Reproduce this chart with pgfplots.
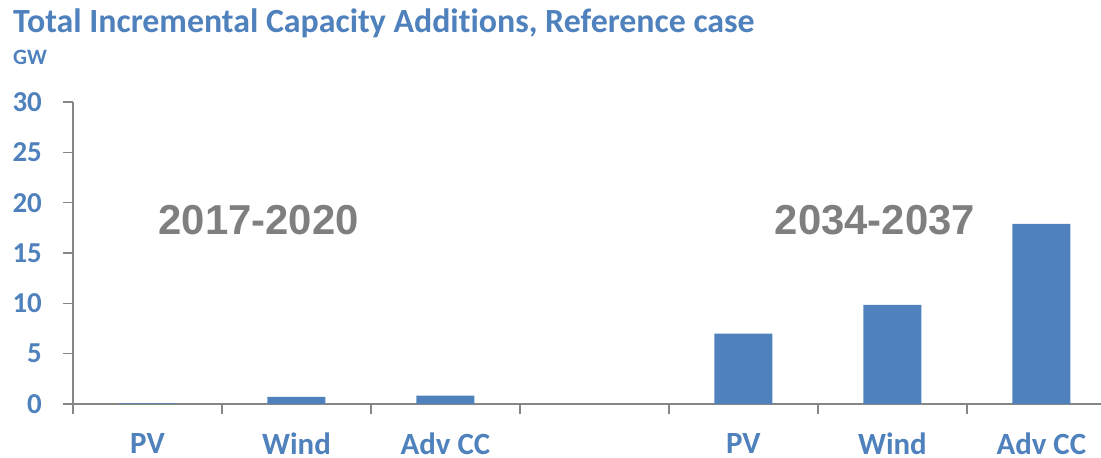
\documentclass[border=0pt]{standalone}
\usepackage{pgfplots}
\pgfplotsset{compat=1.18}
\usepackage{fontspec}
\setmainfont{Carlito Bold}[RawFeature=-liga]
\newfontfamily\arialf{Liberation Sans Bold}
\definecolor{barblue}{HTML}{4F81BD}
\definecolor{txtblue}{HTML}{4F81BD}
\definecolor{axgray}{HTML}{868686}
\definecolor{anngray}{HTML}{7F7F7F}
\begin{document}
\begin{tikzpicture}[x=1bp,y=1bp]
\begin{axis}[
  at={(73bp,54bp)}, anchor=south west, scale only axis,
  width=1028bp, height=302bp,
  xmin=-0.5, xmax=6.4, ymin=0, ymax=30,
  ybar, bar width=58bp,
  axis x line=bottom, axis y line=left,
  axis line style={-, draw=axgray, line width=1.3bp},
  ytick={0,5,...,30},
  xtick={0,1,2,4,5,6},
  xticklabels={PV,Wind,Adv CC,PV,Wind,Adv CC},
  minor xtick={-0.5,0.5,1.5,2.5,3.5,4.5,5.5},
  tick align=outside,
  major tick length=10bp, minor tick length=10bp,
  tick style={draw=axgray, line width=1.3bp},
  major x tick style={draw=none},
  /pgf/number format/assume math mode=true,
  yticklabel style={font=\fontsize{29}{29}\selectfont, text=txtblue, inner sep=0pt, xshift=-21bp},
  xticklabel style={font=\fontsize{31}{31}\selectfont, text=txtblue, inner sep=0pt, yshift=-19bp},
  clip=false,
]
\addplot[fill=barblue, draw=none] coordinates {(0,0.05) (1,0.7) (2,0.83) (4,7.0) (5,9.85) (6,17.9)};
\node[font=\arialf\fontsize{42}{42}\selectfont, text=anngray, anchor=base] at (axis cs:0.747,16.83) {2017-2020};
\node[font=\arialf\fontsize{42}{42}\selectfont, text=anngray, anchor=base] at (axis cs:4.883,16.83) {2034-2037};
\end{axis}
\node[anchor=base west, inner sep=0pt, font=\fontsize{34}{34}\selectfont, text=txtblue] at (13bp,425bp) {Total Incremental Capacity Additions, Reference case};
\node[anchor=base west, inner sep=0pt, font=\fontsize{22}{22}\selectfont, text=txtblue] at (13bp,393bp) {GW};
\pgfresetboundingbox
\useasboundingbox (0,0) rectangle (1101bp,458bp);
\end{tikzpicture}
\end{document}
